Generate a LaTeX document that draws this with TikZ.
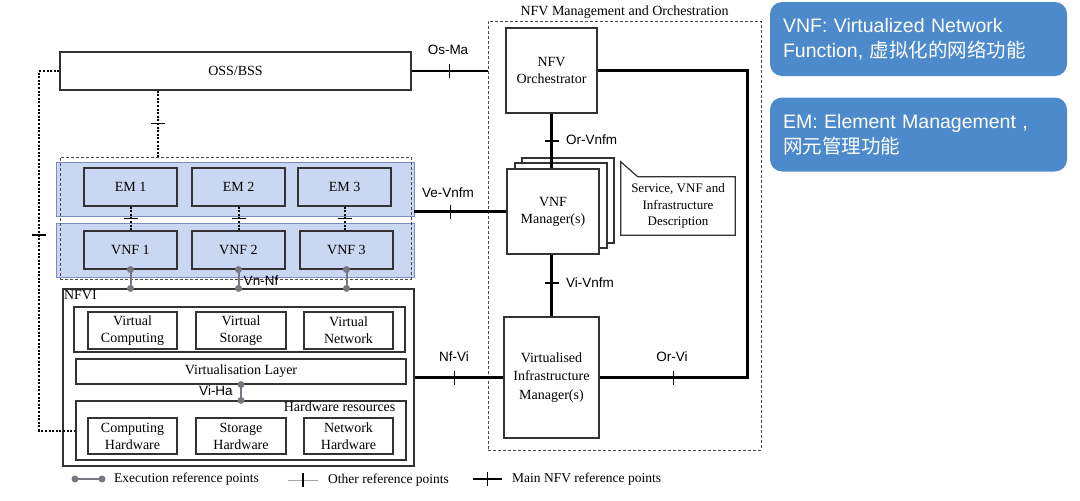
\documentclass[tikz,border=0pt]{standalone}
\usepackage{fontspec}
\setmainfont{Liberation Serif}
\setsansfont{Liberation Sans}
\newfontfamily\cjk{Noto Sans CJK SC}
\usetikzlibrary{decorations.markings}

\definecolor{callblue}{RGB}{76,138,204}
\definecolor{bandfill}{RGB}{201,215,242}
\definecolor{banddraw}{RGB}{120,142,192}
\definecolor{execgray}{RGB}{120,120,128}

\tikzset{
  blk/.style={draw=black!80, line width=1.2pt, fill=white, align=center, inner sep=0pt,
    font=\fontsize{14}{17}\selectfont},
  grp/.style={draw=black!80, line width=1.2pt, inner sep=0pt},
  band/.style={draw=banddraw, fill=bandfill, line width=0.8pt, inner sep=0pt,
    minimum width=358, minimum height=54},
  reflabel/.style={font=\sffamily\fontsize{13.5}{15}\selectfont, inner sep=1pt},
  legtext/.style={font=\fontsize{13.5}{15}\selectfont, inner sep=0pt, anchor=west},
  mainref/.style={line width=2.6pt},
  other/.style={dash pattern=on 2pt off 1.6pt, line width=2pt},
  exec/.style={draw=execgray, line width=2pt},
  dot/.style={circle, fill=execgray, inner sep=0pt, minimum size=7pt},
  tickat/.style={postaction={decorate, decoration={markings,
    mark=at position #1 with {\draw[solid, black, line width=1.4pt] (0,-7) -- (0,7);}}}},
  callout/.style={fill=callblue, rounded corners=12pt, minimum width=297, minimum height=74,
    text width=271, inner xsep=13pt, align=left, text=white,
    font=\sffamily\fontsize{19.5}{25}\selectfont}
}

\begin{document}
\begin{tikzpicture}[x=1pt, y=-1pt]
  \useasboundingbox (0,0) rectangle (1080,501);

  % OSS/BSS
  \node[blk, minimum width=351, minimum height=38] (oss) at (235.5,71) {OSS/BSS};

  % EM / VNF layer
  \node[band] (band1) at (235,189) {};
  \node[band] (band2) at (235,250) {};
  \node[grp, draw=black!70, densely dashed, line width=0.8pt, minimum width=351, minimum height=122] (vnfgrp) at (235.5,218) {};
  \foreach \i/\x in {1/130.5,2/238.5,3/344.5}
    \node[blk, fill=none, minimum width=93, minimum height=38] (em\i) at (\x,187) {EM \i};
  \foreach \i/\x in {1/130.5,2/238.5,3/346.5}
    \node[blk, fill=none, minimum width=93, minimum height=38] (vnf\i) at (\x,250) {VNF \i};

  % NFVI
  \node[grp, minimum width=351, minimum height=177] (nfvi) at (238.5,377.5) {};
  \node[anchor=north west, inner sep=1.5pt, font=\fontsize{14}{15}\selectfont] at (nfvi.north west) {NFVI};
  \node[grp, minimum width=331, minimum height=45] (virt) at (239.5,329.5) {};
  \node[blk, minimum width=89, minimum height=37] (vcomp) at (132.5,330.5) {Virtual\\Computing};
  \node[blk, minimum width=90, minimum height=37] (vstor) at (241,330.5) {Virtual\\Storage};
  \node[blk, minimum width=89, minimum height=37] (vnet) at (348.5,330.5) {Virtual\\Network};
  \node[blk, minimum width=330, minimum height=25] (vlayer) at (241,371.5) {Virtualisation Layer};
  \node[grp, minimum width=330, minimum height=59] (hw) at (241,430.5) {};
  \node[anchor=north east, inner sep=1pt, font=\fontsize{14}{15}\selectfont] at ([xshift=-10]hw.north east) {Hardware resources};
  \node[blk, minimum width=89, minimum height=36] (chw) at (132.5,436) {Computing\\Hardware};
  \node[blk, minimum width=90, minimum height=36] (shw) at (241,436) {Storage\\Hardware};
  \node[blk, minimum width=89, minimum height=36] (nhw) at (348.5,436) {Network\\Hardware};

  % MANO
  \node[grp, draw=black!70, densely dashed, line width=0.8pt, minimum width=273, minimum height=429] (mano) at (624.5,235.5) {};
  \node[font=\fontsize{14}{15}\selectfont, anchor=south, inner sep=2pt] at (mano.north) {NFV Management and Orchestration};
  \node[blk, minimum width=91, minimum height=85] (orch) at (551.5,70.5) {NFV\\Orchestrator};
  \foreach \dx/\dy in {15/-11,8/-6}
    \node[blk, minimum width=92, minimum height=85] at (553+\dx,211.5+\dy) {};
  \node[blk, minimum width=92, minimum height=85] (vnfm) at (553,211.5) {VNF\\Manager(s)};
  \node[align=center, inner sep=0pt, minimum width=114, minimum height=58,
    font=\fontsize{13}{16.5}\selectfont] (desc) at (678,206) {Service, VNF and\\Infrastructure\\Description};
  \draw[line width=1.2pt, black!80] ([yshift=15]desc.north west) -- ([xshift=17]desc.north west)
    -- (desc.north east) -- (desc.south east) -- (desc.south west) -- cycle;
  \node[blk, minimum width=95, minimum height=121, font=\fontsize{14}{18.5}\selectfont] (vim) at (551.5,377.5) {Virtualised\\Infrastructure\\Manager(s)};

  % main reference points
  \draw[mainref, tickat=0.5] (oss.east) -- (oss.east -| mano.west);
  \node[reflabel] at (448,50) {Os-Ma};
  \draw[mainref, tickat=36pt] (band1.east |- vnfm.west) -- (vnfm.west);
  \node[reflabel] at (448,193) {Ve-Vnfm};
  \draw[mainref, tickat=0.5] (orch.south) -- (orch.south |- vnfm.north);
  \node[reflabel, anchor=west] at (565,140) {Or-Vnfm};
  \draw[mainref, tickat=0.46] (orch.south |- vnfm.south) -- (orch.south |- vim.north);
  \node[reflabel, anchor=west] at (565,283) {Vi-Vnfm};
  \draw[mainref, tickat=40pt] (nfvi.east |- vim.west) -- (vim.west);
  \node[reflabel] at (454,357) {Nf-Vi};
  \draw[mainref, tickat=531pt] (orch.east) -- ++(150,0) |- (vim.east);
  \node[reflabel] at (672,357) {Or-Vi};

  % other reference points
  \draw[other, tickat=0.5] (158,0 |- oss.south) -- (158,0 |- vnfgrp.north);
  \draw[other, tickat=184pt] (oss.west) -- ++(-20,0) |- (hw.west);
  \foreach \i in {1,2,3}
    \draw[other, tickat=0.5] (em\i.south) -- (em\i.south |- vnf\i.north);

  % execution reference points
  \foreach \i in {1,2,3}
    \draw[exec] (vnf\i.south) -- (vnf\i.south |- nfvi.north)
      node[dot, pos=0] {} node[dot, pos=1] {};
  \node[reflabel] at (261,281) {Vn-Nf};
  \draw[exec] (vlayer.south) -- (hw.north) node[dot, pos=0] {} node[dot, pos=1] {};
  \node[reflabel] at (216,391) {Vi-Ha};

  % legend
  \node[legtext] (lexec) at (114,479) {Execution reference points};
  \draw[exec] ([xshift=-39]lexec.west) -- ([xshift=-12]lexec.west)
    node[dot, pos=0] {} node[dot, pos=1] {};
  \node[legtext] (lother) at (328,480) {Other reference points};
  \draw[black!35, line width=0.8pt, tickat=0.5] ([xshift=-40]lother.west) -- ([xshift=-10]lother.west);
  \node[legtext] (lmain) at (512,479) {Main NFV reference points};
  \draw[mainref, tickat=0.5] ([xshift=-39]lmain.west) -- ([xshift=-10]lmain.west);

  % callouts
  \node[callout] (cvnf) at (918.5,39) {VNF: Virtualized Network\\Function, {\cjk 虚拟化的网络功能}};
  \node[callout] (cem) at (918.5,134.5) {EM: Element Management ,\\{\cjk 网元管理功能}};
\end{tikzpicture}
\end{document}
